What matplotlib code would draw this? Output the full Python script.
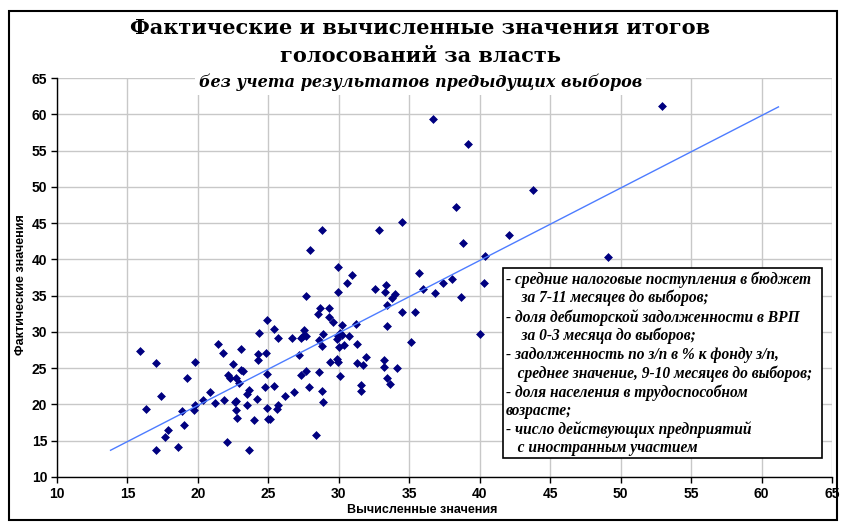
import numpy as np
import matplotlib
matplotlib.use("Agg")
import matplotlib.pyplot as plt
from matplotlib.patches import Rectangle

computed = [
    52.96, 36.7, 39.2, 43.8, 38.3, 28.8, 32.85, 34.5, 42.1, 38.8,
    40.4, 49.1, 37.4, 38.0, 40.3, 36.8, 38.7, 40.0,
    27.96, 29.97, 30.9, 35.67, 30.6, 33.35, 32.6, 33.26, 35.98, 29.97,
    27.67, 33.99, 33.78, 33.4, 34.5, 35.4, 33.4, 35.1, 28.64, 28.55,
    29.3, 29.3, 29.6, 30.2, 31.2, 24.9, 25.4, 24.3, 25.66, 27.5,
    27.46, 27.65, 27.3, 26.7, 28.86, 28.6, 28.8, 29.94, 30.1, 30.2,
    29.87, 30.04, 30.4, 30.75, 31.27, 24.25, 24.25, 24.8, 27.2, 29.4,
    29.9, 29.97, 31.3, 31.9, 31.7, 33.2, 33.2, 34.1, 24.9, 27.67,
    27.34, 28.6, 30.1, 31.55, 31.57, 33.44, 33.6, 24.78, 25.38, 23.6,
    24.2, 23.5, 24.9, 25.6, 25.7, 26.2, 26.8, 27.9, 28.8, 28.9,
    24.0, 25.0, 25.1, 28.4,
    23.08, 22.47, 22.1, 22.25, 22.7, 22.94, 23.06, 23.2, 22.6, 22.7,
    22.7, 22.8, 23.5, 23.6,
    15.9, 17.05, 19.8, 19.25, 17.4, 16.34, 18.9, 19.77, 19.74, 18.99,
    17.88, 17.7, 17.05, 18.6, 21.4, 21.78, 20.86, 20.36, 21.2, 21.87,
    22.04,
]
actual = [
    61.1, 59.4, 55.9, 49.5, 47.2, 44.0, 44.0, 45.1, 43.4, 42.2,
    40.5, 40.3, 36.8, 37.3, 36.8, 35.3, 34.8, 29.7,
    41.3, 38.9, 37.9, 38.1, 36.7, 36.45, 35.9, 35.5, 35.9, 35.5,
    35.0, 35.2, 34.66, 33.65, 32.8, 32.8, 30.8, 28.55, 33.3, 32.5,
    33.3, 32.0, 31.3, 31.0, 31.1, 31.6, 30.4, 29.8, 29.1, 30.2,
    29.4, 29.5, 29.1, 29.2, 29.7, 28.9, 28.0, 29.4, 29.8, 29.6,
    29.0, 27.9, 28.2, 29.4, 28.4, 27.0, 26.1, 27.1, 26.85, 25.8,
    26.3, 25.8, 25.7, 26.5, 25.4, 26.1, 25.2, 25.0, 24.2, 24.6,
    24.0, 24.5, 23.9, 22.7, 21.85, 23.6, 22.85, 22.4, 22.5, 22.0,
    20.8, 19.9, 19.5, 19.4, 19.9, 21.2, 21.7, 22.4, 21.8, 20.4,
    17.8, 18.0, 17.95, 15.8,
    27.7, 25.6, 24.0, 23.6, 23.6, 23.0, 24.8, 24.55, 20.3, 20.5,
    19.2, 18.2, 21.5, 13.7,
    27.3, 25.66, 25.8, 23.7, 21.2, 19.4, 19.1, 19.9, 19.2, 17.1,
    16.5, 15.55, 13.76, 14.1, 28.3, 27.1, 21.75, 20.56, 20.2, 20.65,
    14.8,
]
trend_range = [13.8, 61.2]

title = "Фактические и вычисленные значения итогов\nголосований за власть"
subtitle = "без учета результатов предыдущих выборов"
x_label = "Вычисленные значения"
y_label = "Фактические значения"
note_lines = [
    "- средние налоговые поступления в бюджет",
    "    за 7-11 месяцев до выборов;",
    "- доля дебиторской задолженности в ВРП",
    "    за 0-3 месяца до выборов;",
    "- задолженность по з/п в % к фонду з/п,",
    "   среднее значение, 9-10 месяцев до выборов;",
    "- доля населения в трудоспособном",
    "возрасте;",
    "- число действующих предприятий",
    "   с иностранным участием",
]
ticks = list(range(10, 70, 5))


def main():
    fig = plt.figure(figsize=(8.41, 5.24), dpi=100)
    ax = fig.add_axes([57 / 841, 47 / 524, 775 / 841, 399 / 524])

    ax.set_xlim(10, 65)
    ax.set_ylim(10, 65)
    ax.set_xticks(ticks)
    ax.set_yticks(ticks)
    ax.grid(True, color="#c8c8c8", linewidth=1)
    ax.set_axisbelow(True)
    for side in ("top", "right"):
        ax.spines[side].set_visible(False)
    for side in ("left", "bottom"):
        ax.spines[side].set_color("black")
        ax.spines[side].set_linewidth(1)
    ax.tick_params(direction="out", length=4, width=1, pad=3)
    for lab in ax.get_xticklabels() + ax.get_yticklabels():
        lab.set_fontfamily("Liberation Sans")
        lab.set_fontweight("bold")
        lab.set_fontsize(10)

    ax.scatter(computed, actual, marker="D", s=16, color="#000080",
               edgecolors="#000080", linewidths=0.5, zorder=3)

    slope, intercept = np.polyfit(computed, actual, 1)
    tx = np.array(trend_range)
    ax.plot(tx, slope * tx + intercept, color="#4d7cff", linewidth=1, zorder=4)

    # notes box
    ax.add_patch(Rectangle((446 / 775, 19 / 399), 319 / 775, 190 / 399,
                           transform=ax.transAxes, facecolor="white",
                           edgecolor="black", linewidth=1.2, zorder=5))
    ax.text(449 / 775, 206 / 399, "\n".join(note_lines), transform=ax.transAxes,
            ha="left", va="top", fontsize=11.2, family="Liberation Serif",
            style="italic", fontweight="bold", linespacing=1.19, zorder=6)

    fig.text(0.5, 1 - 42 / 524, title, ha="center", va="center",
             fontsize=15, family="DejaVu Serif", fontweight="bold",
             linespacing=1.5)
    fig.text(0.5, 1 - 82 / 524, subtitle, ha="center", va="center",
             fontsize=11.5, family="DejaVu Serif", style="italic",
             fontweight="bold", zorder=10,
             bbox=dict(boxstyle="square,pad=0.25", facecolor="white",
                       edgecolor="none"))
    fig.text(422 / 841, 1 - 510 / 524, x_label, ha="center", va="center",
             fontsize=9, family="Liberation Sans", fontweight="bold")
    fig.text(21 / 841, 1 - 285 / 524, y_label, ha="center", va="center",
             rotation=90, fontsize=9, family="Liberation Sans",
             fontweight="bold")

    fig.patches.append(Rectangle((9 / 841, 4 / 524), 828 / 841, 509 / 524,
                                 transform=fig.transFigure, fill=False,
                                 edgecolor="black", linewidth=1.5))

    fig.savefig("out.png", dpi=100)


if __name__ == "__main__":
    main()
